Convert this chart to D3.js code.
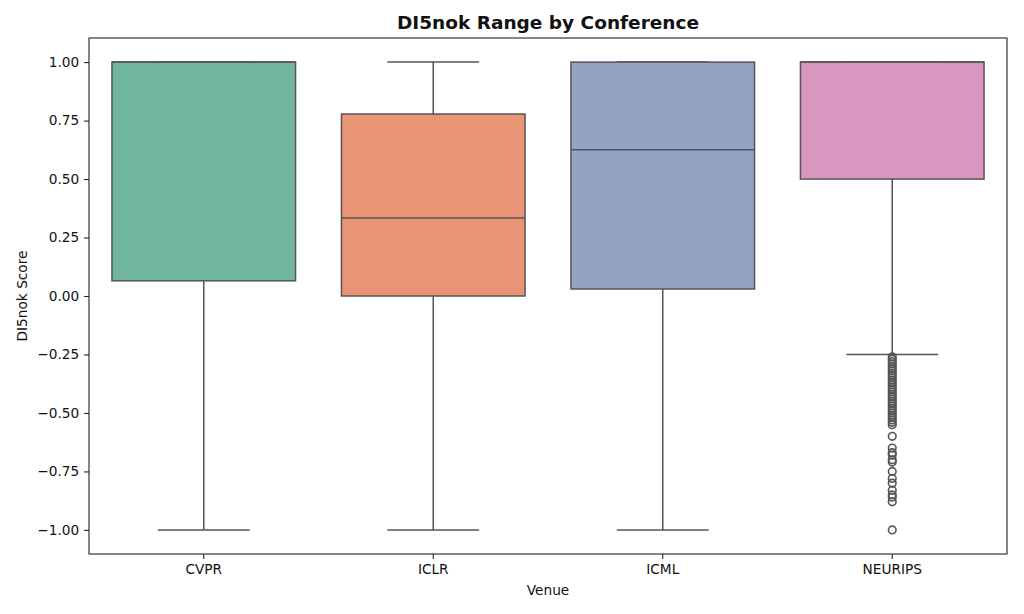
<!DOCTYPE html>
<html>
<head>
<meta charset="utf-8">
<script src="https://cdn.jsdelivr.net/npm/d3@7"></script>
<style>
  body { margin: 0; background: #fff; }
  text { font-family: "DejaVu Sans", sans-serif; fill: #111; }
</style>
</head>
<body>
<svg></svg>
<script>
// box stats

let venues = ["CVPR", "ICLR", "ICML", "NEURIPS"];
let q1 = [0.065, 0.0, 0.03, 0.5];
let medians = [1.0, 0.333, 0.625, 1.0];
let q3 = [1.0, 0.778, 1.0, 1.0];
let whiskerLow = [-1.0, -1.0, -1.0, -0.25];
let whiskerHigh = [1.0, 1.0, 1.0, 1.0];
let colors = ["#71b6a1", "#e99575", "#95a3c3", "#db96c0"];
let yTicks = [-1.0, -0.75, -0.5, -0.25, 0.0, 0.25, 0.5, 0.75, 1.0];

// NEURIPS outliers
let neuripsOutliers = [-0.26, -0.27, -0.28, -0.29, -0.30, -0.31, -0.32, -0.33, -0.34,
	-0.35, -0.36, -0.37, -0.38, -0.39, -0.40, -0.41, -0.42, -0.43, -0.44, -0.45,
	-0.46, -0.47, -0.48, -0.49, -0.50, -0.51, -0.52, -0.53, -0.54, -0.55,
	-0.60, -0.65, -0.67, -0.68, -0.70, -0.71, -0.75, -0.78, -0.80, -0.83,
	-0.85, -0.86, -0.88, -1.0];

let svgWidth = 1024;
let svgHeight = 614;
let margin = { top: 38, right: 17, bottom: 60, left: 89 };
let lineColor = "#555";

let svg = d3.select("svg")
	.attr("width", svgWidth)
	.attr("height", svgHeight);

let xScale = d3.scaleBand()
	.domain(venues)
	.range([margin.left, svgWidth - margin.right])
	.paddingInner(0.2)
	.paddingOuter(0.1);

let yScale = d3.scaleLinear()
	.domain([-1.103, 1.103])
	.range([svgHeight - margin.bottom, margin.top]);

let boxes = venues.map(function (v, i) {
	return { venue: v, q1: q1[i], med: medians[i], q3: q3[i],
		lo: whiskerLow[i], hi: whiskerHigh[i], color: colors[i] };
});

let g = svg.selectAll("g.box")
	.data(boxes)
	.enter()
	.append("g")
	.attr("class", "box");

let bw = xScale.bandwidth();
let cx = function (d) { return xScale(d.venue) + bw / 2; };

// whiskers
g.append("line")
	.attr("x1", cx).attr("x2", cx)
	.attr("y1", function (d) { return yScale(d.q1); })
	.attr("y2", function (d) { return yScale(d.lo); })
	.attr("stroke", lineColor).attr("stroke-width", 1.5);
g.append("line")
	.attr("x1", cx).attr("x2", cx)
	.attr("y1", function (d) { return yScale(d.q3); })
	.attr("y2", function (d) { return yScale(d.hi); })
	.attr("stroke", lineColor).attr("stroke-width", 1.5);

// caps
["lo", "hi"].forEach(function (k) {
	g.append("line")
		.attr("x1", function (d) { return cx(d) - bw / 4; })
		.attr("x2", function (d) { return cx(d) + bw / 4; })
		.attr("y1", function (d) { return yScale(d[k]); })
		.attr("y2", function (d) { return yScale(d[k]); })
		.attr("stroke", lineColor).attr("stroke-width", 1.5);
});

// boxes
g.append("rect")
	.attr("x", function (d) { return xScale(d.venue); })
	.attr("width", bw)
	.attr("y", function (d) { return yScale(d.q3); })
	.attr("height", function (d) { return yScale(d.q1) - yScale(d.q3); })
	.attr("fill", function (d) { return d.color; })
	.attr("stroke", lineColor)
	.attr("stroke-width", 1.5);

// medians
g.append("line")
	.attr("x1", function (d) { return xScale(d.venue); })
	.attr("x2", function (d) { return xScale(d.venue) + bw; })
	.attr("y1", function (d) { return yScale(d.med); })
	.attr("y2", function (d) { return yScale(d.med); })
	.attr("stroke", lineColor).attr("stroke-width", 1.5);

// outliers
svg.selectAll("circle.flier")
	.data(neuripsOutliers)
	.enter()
	.append("circle")
	.attr("class", "flier")
	.attr("cx", xScale("NEURIPS") + bw / 2)
	.attr("cy", function (d) { return yScale(d); })
	.attr("r", 3.8)
	.attr("fill", "none")
	.attr("stroke", lineColor)
	.attr("stroke-width", 1.6);

// axes
let yAxis = svg.append("g")
	.attr("transform", "translate(" + margin.left + ",0)")
	.call(d3.axisLeft(yScale).tickValues(yTicks).tickSize(4.9).tickPadding(4.9)
		.tickFormat(function (d) { return d3.format(".2f")(d).replace("-", "\u2212"); }));

let xAxis = svg.append("g")
	.attr("transform", "translate(0," + (svgHeight - margin.bottom) + ")")
	.call(d3.axisBottom(xScale).tickSize(4.9).tickPadding(5.5));

[xAxis, yAxis].forEach(function (a) {
	a.select(".domain").remove();
	a.selectAll("line").attr("stroke", "#222").attr("stroke-width", 1.1);
	a.selectAll("text").attr("font-size", 13.7).attr("fill", "#111")
		.attr("font-family", "DejaVu Sans");
});

// frame
svg.append("rect")
	.attr("x", margin.left)
	.attr("y", margin.top)
	.attr("width", svgWidth - margin.left - margin.right)
	.attr("height", svgHeight - margin.top - margin.bottom)
	.attr("fill", "none")
	.attr("stroke", "#222")
	.attr("stroke-width", 1.1);

// labels
svg.append("text")
	.text("DI5nok Range by Conference")
	.attr("x", (margin.left + svgWidth - margin.right) / 2)
	.attr("y", 29)
	.attr("text-anchor", "middle")
	.attr("font-size", 18.5)
	.attr("font-weight", "bold");

svg.append("text")
	.text("Venue")
	.attr("x", (margin.left + svgWidth - margin.right) / 2)
	.attr("y", 595)
	.attr("text-anchor", "middle")
	.attr("font-size", 13.7);

svg.append("text")
	.text("DI5nok Score")
	.attr("transform", "translate(27," + ((margin.top + svgHeight - margin.bottom) / 2) + ") rotate(-90)")
	.attr("text-anchor", "middle")
	.attr("font-size", 13.7);
</script>
</body>
</html>
